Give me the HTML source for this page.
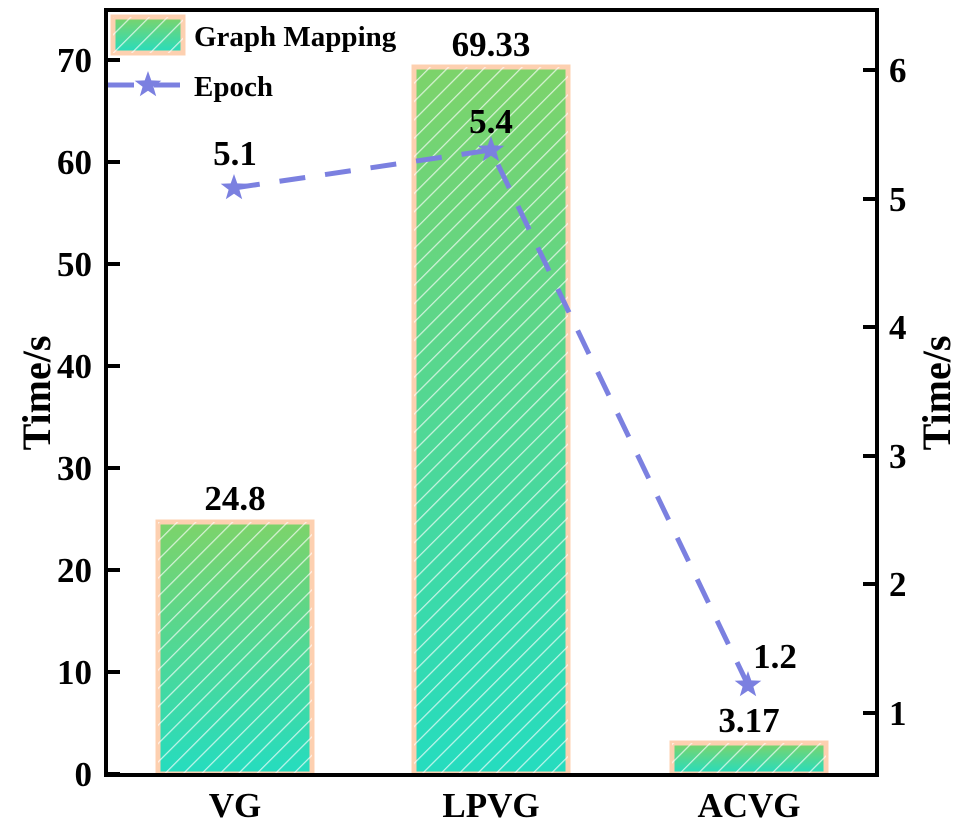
<!DOCTYPE html>
<html><head><style>body{margin:0;background:#fff}svg text{font-family:"Liberation Serif",serif;font-weight:bold}</style></head><body>
<svg width="962" height="828" xmlns="http://www.w3.org/2000/svg">
<defs>
<linearGradient id="g" x1="0" y1="0" x2="0" y2="1"><stop offset="0" stop-color="#7dd36a"/><stop offset="1" stop-color="#25dcbf"/></linearGradient>
<pattern id="h" width="13" height="13" patternUnits="userSpaceOnUse" patternTransform="rotate(45)"><line x1="0" y1="0" x2="0" y2="13" stroke="#fff" stroke-opacity="0.7" stroke-width="2.5"/></pattern>
<polygon id="s" points="0,-14 3.3,-4.6 13.3,-4.3 5.4,1.8 8.2,11.3 0,5.7 -8.2,11.3 -5.4,1.8 -13.3,-4.3 -3.3,-4.6"/>
</defs>
<g stroke="#fdd0b0" stroke-width="5">
<rect x="158" y="522" width="154" height="252" fill="url(#g)"/>
<rect x="414" y="67" width="154" height="707" fill="url(#g)"/>
<rect x="672" y="743" width="154" height="31" fill="url(#g)"/>
<rect x="113" y="17" width="70" height="36" fill="url(#g)"/>
</g>
<rect x="158" y="522" width="154" height="252" fill="url(#h)"/>
<rect x="414" y="67" width="154" height="707" fill="url(#h)"/>
<rect x="672" y="743" width="154" height="31" fill="url(#h)"/>
<rect x="113" y="17" width="70" height="36" fill="url(#h)"/>
<g stroke="#7b80e0" stroke-width="5" stroke-dasharray="26,20" fill="none">
<polyline points="234,188 491,150 748,685"/>
<line x1="108" y1="85" x2="186" y2="85"/>
</g>
<g fill="#7b80e0">
<use href="#s" x="234" y="188"/><use href="#s" x="491" y="150"/><use href="#s" x="748" y="685"/><use href="#s" x="148" y="85"/>
</g>
<rect x="106" y="10" width="771" height="765" fill="none" stroke="#000" stroke-width="4"/>
<g stroke="#000" stroke-width="4">
<line x1="106" y1="774" x2="120" y2="774"/><line x1="106" y1="672" x2="120" y2="672"/><line x1="106" y1="570" x2="120" y2="570"/><line x1="106" y1="468" x2="120" y2="468"/><line x1="106" y1="366" x2="120" y2="366"/><line x1="106" y1="264" x2="120" y2="264"/><line x1="106" y1="162" x2="120" y2="162"/><line x1="106" y1="60" x2="120" y2="60"/>
<line x1="863" y1="713" x2="877" y2="713"/><line x1="863" y1="584" x2="877" y2="584"/><line x1="863" y1="456" x2="877" y2="456"/><line x1="863" y1="327" x2="877" y2="327"/><line x1="863" y1="199" x2="877" y2="199"/><line x1="863" y1="70" x2="877" y2="70"/>
</g>
<g font-size="35" text-anchor="end">
<text x="92" y="786">0</text><text x="92" y="684">10</text><text x="92" y="582">20</text><text x="92" y="480">30</text><text x="92" y="378">40</text><text x="92" y="276">50</text><text x="92" y="174">60</text><text x="92" y="72">70</text>
</g>
<g font-size="35">
<text x="889" y="725">1</text><text x="889" y="596">2</text><text x="889" y="468">3</text><text x="889" y="339">4</text><text x="889" y="211">5</text><text x="889" y="82">6</text>
</g>
<g font-size="35" text-anchor="middle">
<text x="235" y="817">VG</text><text x="491" y="817">LPVG</text><text x="749" y="817">ACVG</text>
<text x="235" y="510">24.8</text><text x="491" y="56">69.33</text><text x="749" y="732">3.17</text>
<text x="235" y="165">5.1</text><text x="491" y="133">5.4</text><text x="775" y="668">1.2</text>
</g>
<g font-size="29"><text x="194" y="46">Graph Mapping</text><text x="194" y="96">Epoch</text></g>
<text font-size="40" text-anchor="middle" transform="translate(50,393) rotate(-90)">Time/s</text>
<text font-size="40" text-anchor="middle" transform="translate(950,393) rotate(-90)">Time/s</text>
</svg>
</body></html>
